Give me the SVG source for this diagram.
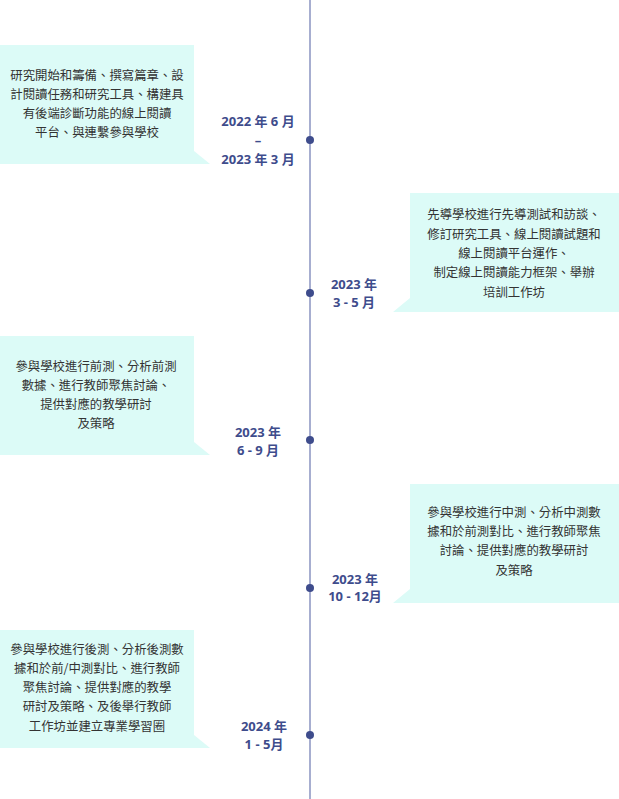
<svg xmlns="http://www.w3.org/2000/svg" width="619" height="799" viewBox="0 0 619 799">
<style>
.box{fill:#dcfbf7}
.t{font-family:"Noto Sans CJK TC","Noto Sans CJK SC",sans-serif;font-size:12.4px;fill:#333;text-anchor:middle}
.d{font-family:"Noto Sans","Noto Sans CJK TC",sans-serif;font-size:13px;font-weight:bold;fill:#3e4c8c;text-anchor:middle}
.dot{fill:#3e4c8c}
</style>
<rect width="619" height="799" fill="#fff"/>
<g id="connectors">
<line x1="310" y1="0" x2="310" y2="799" stroke="#8a93c0" stroke-width="1.5"/>
</g>
<g id="n1">
<path class="box" d="M0 45H194V151L210 164H0Z"/>
<text class="t" x="97" y="80">研究開始和籌備、撰寫篇章、設</text>
<text class="t" x="97" y="99">計閱讀任務和研究工具、構建具</text>
<text class="t" x="97" y="118">有後端診斷功能的線上閱讀</text>
<text class="t" x="97" y="137">平台、與連繫參與學校</text>
<text class="d" x="258" y="126">2022 年 6 月</text>
<text class="d" x="258" y="145">–</text>
<text class="d" x="258" y="164">2023 年 3 月</text>
<circle class="dot" cx="310" cy="140" r="4"/>
</g>
<g id="n2">
<path class="box" d="M410 193H619V312H393L410 298Z"/>
<text class="t" x="514" y="219">先導學校進行先導測試和訪談、</text>
<text class="t" x="514" y="239">修訂研究工具、線上閱讀試題和</text>
<text class="t" x="514" y="258">線上閱讀平台運作、</text>
<text class="t" x="514" y="277">制定線上閱讀能力框架、舉辦</text>
<text class="t" x="514" y="297">培訓工作坊</text>
<text class="d" x="354" y="289">2023 年</text>
<text class="d" x="354" y="307">3 - 5 月</text>
<circle class="dot" cx="310" cy="293" r="4"/>
</g>
<g id="n3">
<path class="box" d="M0 336H194V442L210 455H0Z"/>
<text class="t" x="96" y="371">參與學校進行前測、分析前測</text>
<text class="t" x="96" y="390">數據、進行教師聚焦討論、</text>
<text class="t" x="96" y="409">提供對應的教學研討</text>
<text class="t" x="96" y="428">及策略</text>
<text class="d" x="258" y="437">2023 年</text>
<text class="d" x="258" y="455">6 - 9 月</text>
<circle class="dot" cx="310" cy="440" r="4"/>
</g>
<g id="n4">
<path class="box" d="M410 484H619V603H393L410 589Z"/>
<text class="t" x="514" y="517">參與學校進行中測、分析中測數</text>
<text class="t" x="514" y="536">據和於前測對比、進行教師聚焦</text>
<text class="t" x="514" y="555">討論、提供對應的教學研討</text>
<text class="t" x="514" y="575">及策略</text>
<text class="d" x="355" y="584">2023 年</text>
<text class="d" x="355" y="601">10 - 12月</text>
<circle class="dot" cx="310" cy="588" r="4"/>
</g>
<g id="n5">
<path class="box" d="M0 630H194V735L210 748H0Z"/>
<text class="t" x="97" y="654">參與學校進行後測、分析後測數</text>
<text class="t" x="97" y="673">據和於前/中測對比、進行教師</text>
<text class="t" x="97" y="692">聚焦討論、提供對應的教學</text>
<text class="t" x="97" y="711">研討及策略、及後舉行教師</text>
<text class="t" x="97" y="731">工作坊並建立專業學習圈</text>
<text class="d" x="264" y="731">2024 年</text>
<text class="d" x="264" y="749">1 - 5月</text>
<circle class="dot" cx="310" cy="735" r="4"/>
</g>
</svg>
